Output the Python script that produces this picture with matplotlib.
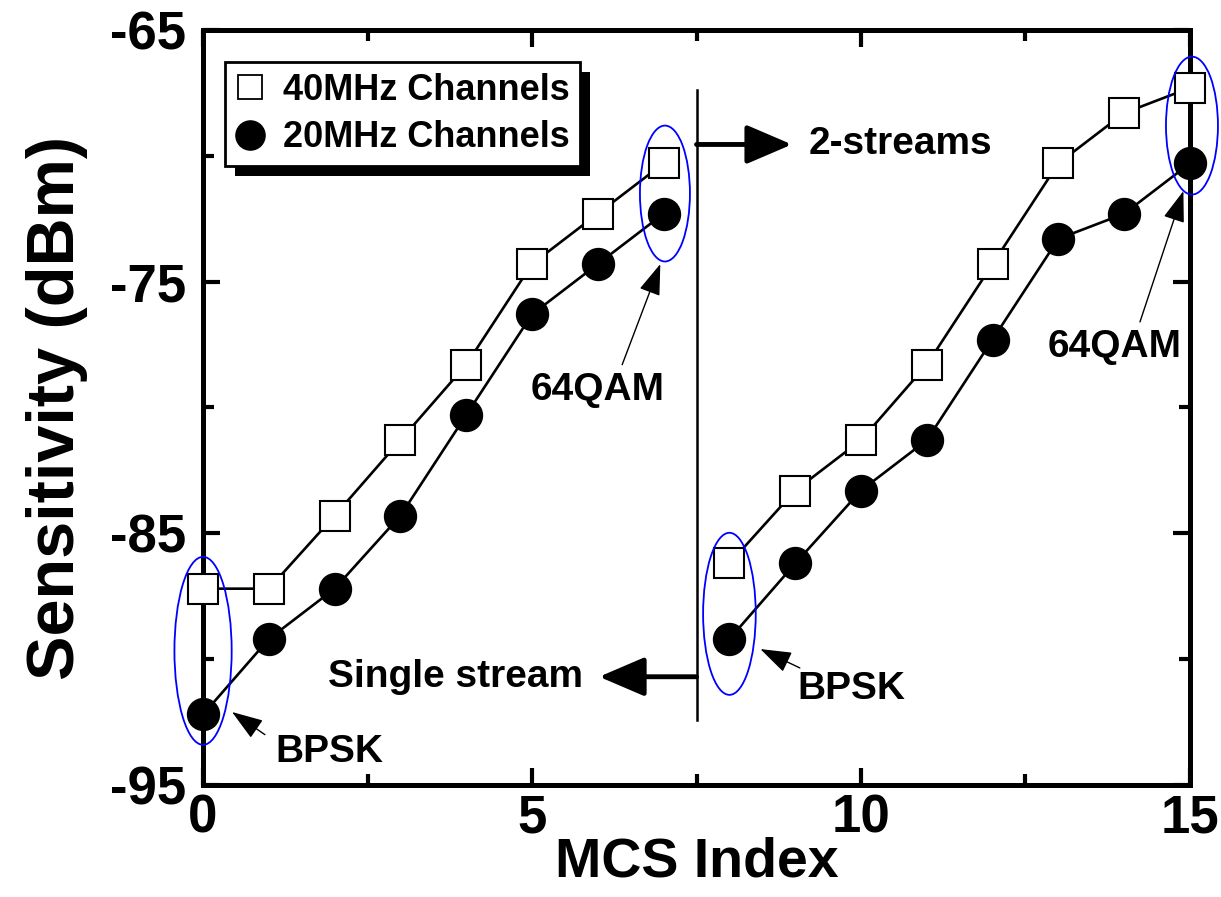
import matplotlib
matplotlib.use("Agg")
import matplotlib.pyplot as plt
from matplotlib.patches import Ellipse, Rectangle
from matplotlib.lines import Line2D

plt.rcParams['font.family'] = ['Liberation Sans', 'DejaVu Sans']
plt.rcParams['font.weight'] = 'bold'

# ---- data ----
mcs_single = [0, 1, 2, 3, 4, 5, 6, 7]
mcs_dual = [8, 9, 10, 11, 12, 13, 14, 15]
sens_40_single = [-87.2, -87.2, -84.3, -81.3, -78.3, -74.3, -72.3, -70.3]
sens_40_dual = [-86.2, -83.3, -81.3, -78.3, -74.3, -70.3, -68.3, -67.3]
sens_20_single = [-92.2, -89.2, -87.2, -84.3, -80.3, -76.3, -74.3, -72.3]
sens_20_dual = [-89.2, -86.2, -83.3, -81.3, -77.3, -73.3, -72.3, -70.3]
legend_labels = ['40MHz Channels', '20MHz Channels']
xticks = [0, 5, 10, 15]
yticks = [-95, -85, -75, -65]

fig = plt.figure(figsize=(12.21, 8.97), dpi=100)
ax = fig.add_axes([0.1663, 0.1249, 0.8083, 0.8417])

lw = 1.9
for xs, ys in [(mcs_single, sens_40_single), (mcs_dual, sens_40_dual)]:
    ax.plot(xs, ys, color='black', lw=lw, marker='s', markersize=21,
            markerfacecolor='white', markeredgecolor='black', markeredgewidth=1.5,
            zorder=3, clip_on=False)
for xs, ys in [(mcs_single, sens_20_single), (mcs_dual, sens_20_dual)]:
    ax.plot(xs, ys, color='black', lw=lw, marker='o', markersize=23,
            markerfacecolor='black', markeredgecolor='black',
            zorder=3, clip_on=False)

ax.set_xlim(0, 15)
ax.set_ylim(-95, -65)
ax.set_xticks(xticks)
ax.set_xticks([2.5, 7.5, 12.5], minor=True)
ax.set_yticks(yticks)
ax.set_yticks([-90, -80, -70], minor=True)
ax.set_xticklabels([str(v) for v in xticks], fontsize=38, fontweight='bold')
ax.set_yticklabels([str(v) for v in yticks], fontsize=38, fontweight='bold')
ax.tick_params(which='both', direction='in', top=True, right=True, width=3)
ax.tick_params(which='major', length=12)
ax.tick_params(which='minor', length=8)
ax.tick_params(axis='x', which='major', pad=6)
ax.tick_params(axis='y', which='major', pad=12)
for s in ax.spines.values():
    s.set_linewidth(3.6)

ax.set_xlabel('MCS Index', fontsize=40, fontweight='bold', labelpad=-5)
ax.set_ylabel('Sensitivity (dBm)', fontsize=48, fontweight='bold', labelpad=16)

# divider line
ax.plot([7.5, 7.5], [-67.4, -92.4], color='black', lw=1.8, zorder=2)

# stream arrows
big_arrow = dict(arrowstyle='-|>,head_length=1.4,head_width=0.6',
                 mutation_scale=20, color='black', lw=3.5, shrinkA=0, shrinkB=0)
ax.annotate('', xy=(8.95, -69.55), xytext=(7.5, -69.55), arrowprops=big_arrow)
ax.text(9.2, -69.55, '2-streams', fontsize=28, fontweight='bold',
        ha='left', va='center')
ax.annotate('', xy=(6.02, -90.7), xytext=(7.5, -90.7), arrowprops=big_arrow)
ax.text(5.78, -90.7, 'Single stream', fontsize=28, fontweight='bold',
        ha='right', va='center')

# callouts
callouts = [
    ('BPSK', (0.44, -92.1), (1.92, -93.7), (0.94, -93.0)),
    ('64QAM', (6.95, -74.3), (5.99, -79.3), (6.37, -78.3)),
    ('BPSK', (8.47, -89.6), (9.86, -91.2), (9.07, -90.35)),
    ('64QAM', (14.9, -71.4), (13.86, -77.6), (14.24, -76.6)),
]
small_arrow = dict(arrowstyle='-|>,head_length=1.3,head_width=0.45',
                   mutation_scale=15, color='black', lw=1.0, shrinkA=0, shrinkB=0)
for label, tip, tpos, tail in callouts:
    ax.text(tpos[0], tpos[1], label, fontsize=28, fontweight='bold',
            ha='center', va='center')
    ax.annotate('', xy=tip, xytext=tail, arrowprops=small_arrow,
                annotation_clip=False)

# blue ellipses
ellipses = [((0.0, -89.67), 0.87, 7.47), ((7.02, -71.5), 0.76, 5.4),
            ((8.0, -88.2), 0.8, 6.44), ((15.03, -68.8), 0.79, 5.48)]
for c, w, h in ellipses:
    ax.add_patch(Ellipse(c, w, h, fill=False, edgecolor='blue', lw=1.3,
                         zorder=5, clip_on=False))

# legend
handles = [Line2D([], [], ls='none', marker='s', markersize=17,
                  markerfacecolor='white', markeredgecolor='black', markeredgewidth=1.3),
           Line2D([], [], ls='none', marker='o', markersize=21,
                  markerfacecolor='black', markeredgecolor='black')]
leg = ax.legend(handles, legend_labels, loc='upper left',
                bbox_to_anchor=(0.022, 0.958), frameon=True, fancybox=False,
                framealpha=1, facecolor='white', edgecolor='black',
                prop={'weight': 'bold', 'size': 26},
                handlelength=0.8, handletextpad=0.5, borderpad=0.3,
                labelspacing=0.35, borderaxespad=0)
leg.get_frame().set_linewidth(2.0)
leg.set_zorder(10)

fig.canvas.draw()
bb = leg.get_window_extent()
inv = fig.transFigure.inverted()
(x0, y0) = inv.transform((bb.x0 + 10, bb.y0 - 10))
(x1, y1) = inv.transform((bb.x1 + 10, bb.y1 - 10))
fig.patches.append(Rectangle((x0, y0), x1 - x0, y1 - y0, transform=fig.transFigure,
                             facecolor='black', edgecolor='none', zorder=1))
ax.set_zorder(2)
ax.patch.set_alpha(0)

fig.savefig('out.png', dpi=100)
